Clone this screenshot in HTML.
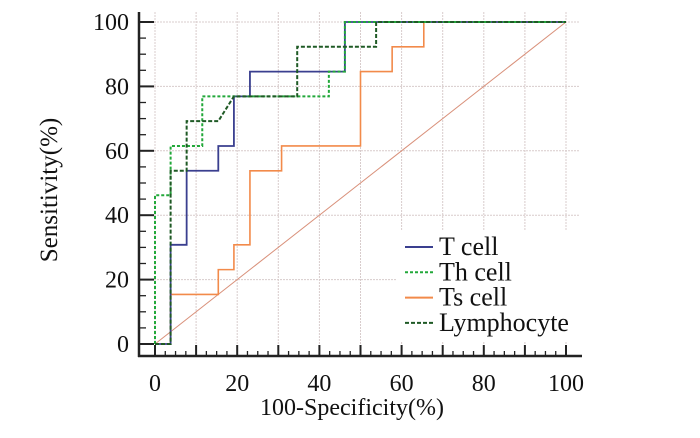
<!DOCTYPE html>
<html><head><meta charset="utf-8"><style>
html,body{margin:0;padding:0;background:#fff;}
svg{display:block;}
</style></head><body>
<svg id="chart" width="700" height="438" viewBox="0 0 700 438" xmlns="http://www.w3.org/2000/svg" font-family="'Liberation Serif', serif"></svg>
<script>
const xTicks=[0,20,40,60,80,100];
const yTicks=[0,20,40,60,80,100];
const tX=[0,3.8,3.8,7.7,7.7,15.4,15.4,19.2,19.2,23.1,23.1,46.2,46.2,100];
const tY=[0,0,30.8,30.8,53.8,53.8,61.5,61.5,76.9,76.9,84.6,84.6,100,100];
const thX=[0,0,3.8,3.8,11.5,11.5,42.3,42.3,46.2,46.2,100];
const thY=[0,46.2,46.2,61.5,61.5,76.9,76.9,84.6,84.6,100,100];
const tsX=[0,3.8,3.8,15.4,15.4,19.2,19.2,23.1,23.1,30.8,30.8,50,50,57.7,57.7,65.4,65.4,100];
const tsY=[0,0,15.4,15.4,23.1,23.1,30.8,30.8,53.8,53.8,61.5,61.5,84.6,84.6,92.3,92.3,100,100];
const lyX=[0,3.8,3.8,7.7,7.7,15.4,19.2,34.6,34.6,53.8,53.8,100];
const lyY=[0,0,53.8,53.8,69.2,69.2,76.9,76.9,92.3,92.3,100,100];
const legendLabels=["T cell","Th cell","Ts cell","Lymphocyte"];

const NS="http://www.w3.org/2000/svg";
const FF="'Liberation Serif', serif";
const svg=document.getElementById('chart');
const X0=155,X1=566,Y0=344,Y1=22;
const sx=v=>X0+(X1-X0)*v/100;
const sy=v=>Y0-(Y0-Y1)*v/100;
function mk(tag,attrs,parent){const e=document.createElementNS(NS,tag);for(const k in attrs)e.setAttribute(k,attrs[k]);(parent||svg).appendChild(e);return e;}

const grid=mk('g',{});


for(let v=0;v<=100;v+=10){mk('line',{x1:sx(v),x2:sx(v),y1:12,y2:356,stroke:'#d8cccc','stroke-width':1,'stroke-dasharray':'2,1'},grid);}
for(let v=20;v<=100;v+=20){mk('line',{x1:139,x2:580,y1:sy(v),y2:sy(v),stroke:'#d8cccc','stroke-width':1,'stroke-dasharray':'2,1'},grid);}

const axes=mk('g',{});


mk('line',{x1:139,x2:139,y1:12,y2:357,stroke:'#222','stroke-width':2.5},axes);
mk('line',{x1:138,x2:582,y1:356,y2:356,stroke:'#222','stroke-width':2.5},axes);
for(let v=0;v<=100;v+=5){const maj=v%20===0;mk('line',{x1:139,x2:maj?154:146,y1:sy(v),y2:sy(v),stroke:'#222','stroke-width':maj?2:1.3},axes);}
for(let v=0;v<=100;v+=2.5){const maj=v%10===0;mk('line',{x1:sx(v),x2:sx(v),y1:356,y2:maj?345:351,stroke:'#222','stroke-width':maj?2:1.3},axes);}
xTicks.forEach(v=>{const t=mk('text',{x:sx(v),y:391,'text-anchor':'middle','font-size':24,'font-family':FF,fill:'#111'});t.textContent=v;});
yTicks.forEach(v=>{const t=mk('text',{x:129,y:sy(v)+8,'text-anchor':'end','font-size':24,'font-family':FF,fill:'#111'});t.textContent=v;});
const xt=mk('text',{x:352,y:415,'text-anchor':'middle','font-size':24,'font-family':FF,fill:'#111'});


xt.textContent='100-Specificity(%)';
const yt=mk('text',{x:0,y:0,'text-anchor':'middle','font-size':25,'font-family':FF,fill:'#111',transform:'translate(57,190) rotate(-90)'});


yt.textContent='Sensitivity(%)';

const diag=mk('line',{x1:sx(0),y1:sy(0),x2:sx(100),y2:sy(100),stroke:'#d9907a','stroke-width':1});



function path(xs,ys){return xs.map((x,i)=>(i?'L':'M')+sx(x)+','+sy(ys[i])).join(' ');}
const series=[
 {x:tsX,y:tsY,c:'#f28a4a',d:'',w:1.6,n:'ts-cell-curve'},
 {x:tX,y:tY,c:'#3a3f8f',d:'',w:1.8,n:'t-cell-curve'},
 {x:thX,y:thY,c:'#22a83a',d:'3,2',w:2,n:'th-cell-curve'},
 {x:lyX,y:lyY,c:'#1f5a25',d:'4,2',w:2,n:'lymphocyte-curve'}
];
series.forEach(s=>{const p=mk('path',{d:path(s.x,s.y),fill:'none',stroke:s.c,'stroke-width':s.w,'stroke-dasharray':s.d});});

const lg=mk('g',{});


mk('rect',{x:396,y:230,width:200,height:112,fill:'#fff'},lg);
const lc=[['#3a3f8f',''],['#22a83a','3,2'],['#f28a4a',''],['#1f5a25','4,2']];
legendLabels.forEach((l,i)=>{const yy=247+i*25.3;
 const e=mk('g',{},lg);
 mk('line',{x1:405,x2:433,y1:yy,y2:yy,stroke:lc[i][0],'stroke-width':2,'stroke-dasharray':lc[i][1]},e);
 const t=mk('text',{x:439,y:yy+8,'font-size':26,'font-family':FF,fill:'#111'},e);t.textContent=l;});
</script>
</body></html>
